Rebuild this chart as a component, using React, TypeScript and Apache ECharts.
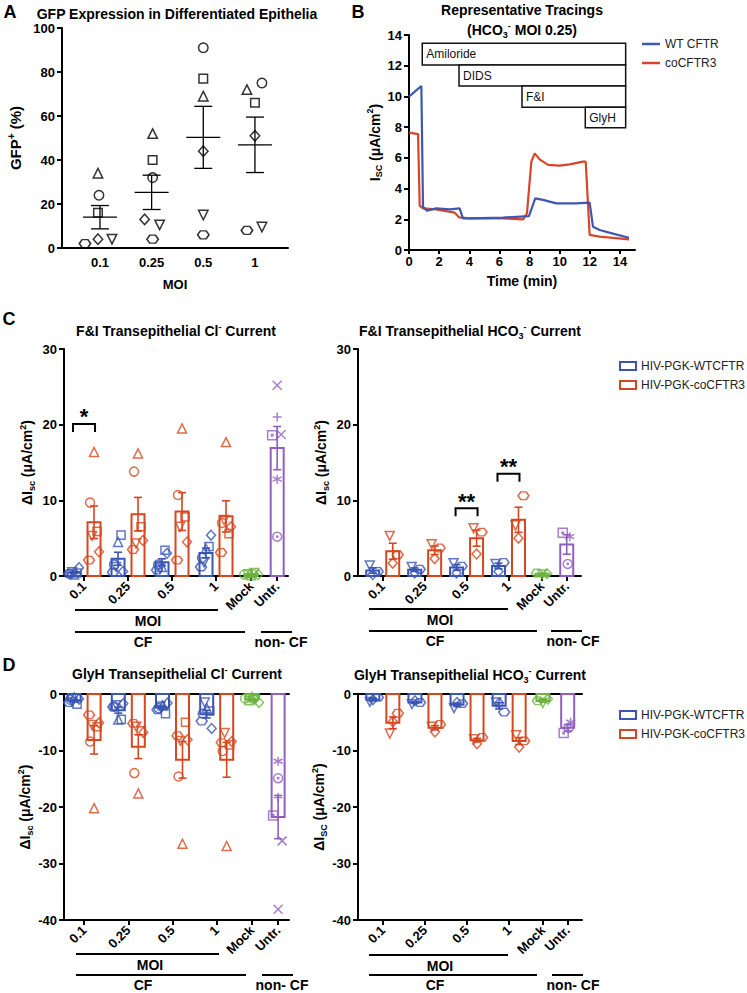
import React, { useEffect, useRef } from 'react';
import * as echarts from 'echarts';

const FONT = '"Liberation Sans", Arial, Helvetica, sans-serif';
const BLUE = '#3a55b4';
const RED = '#d4471f';
const GREEN = '#6cb33f';
const PURPLE = '#915fc0';
const TRACE_BLUE = '#3f57b0';
const TRACE_RED = '#d8462a';

// ---------- Panel A ----------
const A_MOI = ['0.1', '0.25', '0.5', '1'];
const A_GFP = [
  [24, 16, 34, 4, 4, 2],
  [32, 40, 52, 10.5, 13, 4],
  [91, 77, 69, 15, 44, 6],
  [75, 66, 72, 9.5, 51, 8],
];
const A_MEAN = [14, 25.3, 50.3, 46.9];
const A_SEM = [5.3, 7.8, 14.1, 12.6];
const A_JITTER = [
  [-1, -2, -2, 12, -2, -15],
  [1, 1, 1, 8, -7, 1],
  [0, 0, 0, 0, 0, 0],
  [7, 0, -8, 7, 0, -8],
];

// ---------- Panel B ----------
const B_TICKS = [0, 2, 4, 6, 8, 10, 12, 14];
const B_WT_TIME = [0, 0.38, 0.82, 0.93, 1.19, 1.81, 2.7, 3.36, 3.58, 4.03, 6.24, 7.96, 8.38, 8.89, 9.78, 11.1, 11.99, 12.21, 12.65, 13.6, 14.6];
const B_WT_ISC = [9.98, 10.31, 10.68, 2.82, 2.56, 2.71, 2.65, 2.71, 2.06, 2.06, 2.11, 2.21, 3.36, 3.26, 3.04, 3.04, 3.08, 1.52, 1.3, 1.05, 0.8];
const B_CO_TIME = [0, 0.6, 0.71, 0.93, 1.81, 3.03, 3.32, 4.03, 6.24, 7.57, 7.83, 8.12, 8.34, 8.67, 9.23, 10.0, 10.66, 11.55, 11.73, 11.99, 12.65, 14.6];
const B_CO_ISC = [7.64, 7.55, 2.87, 2.71, 2.65, 2.43, 2.13, 2.06, 2.06, 2.0, 2.39, 5.75, 6.29, 5.9, 5.54, 5.49, 5.58, 5.75, 5.75, 0.98, 0.87, 0.69];
const B_BOX_LABELS = ['Amiloride', 'DIDS', 'F&I', 'GlyH'];
const B_BOX_START = [0.88, 3.32, 7.5, 11.7];
const B_BOX_END = [14.38, 14.38, 14.38, 14.38];
const B_BOX_TOP = [13.46, 12.04, 10.68, 9.29];
const B_BOX_BOTTOM = [12.04, 10.68, 9.29, 7.96];

// ---------- Panels C / D (groups: 0.1, 0.25, 0.5, 1, Mock, Untr.) ----------
const GROUP_LABELS = ['0.1', '0.25', '0.5', '1', 'Mock', 'Untr.'];
const POS = [1, 2, 3, 4, 4.8, 5.39];

// C: F&I Cl-
const C_CL_WT = [
  [0.3, 0.4, 0.2, 0.5, 1.1, 0.3],
  [1.5, 5.4, 4.5, 1.2, 0.6, 0.5],
  [1.5, 3.4, 1.2, 1.0, 3.0, 0.8],
  [2.4, 3.9, 3.6, 1.8, 5.4, 1.2],
];
const C_CL_WT_MEAN = [0.47, 2.28, 1.82, 3.05];
const C_CL_WT_SEM = [0.13, 0.86, 0.45, 0.63];
const C_CL_CO = [
  [9.7, 5.9, 16.4, 5.3, 3.2, 2.1],
  [13.8, 6.5, 16.2, 4.3, 4.7, 3.5],
  [10.7, 7.8, 19.5, 6.5, 4.5, 2.1],
  [7.0, 5.6, 17.7, 7.4, 6.5, 3.1],
];
const C_CL_CO_MEAN = [7.1, 8.17, 8.52, 7.88];
const C_CL_CO_SEM = [2.15, 2.22, 2.5, 2.06];
const C_CL_MOCK = [0.2, 0.3, 0.1, 0.4, 0.2, 0.3];
const C_CL_MOCK_MEAN = [0.25];
const C_CL_MOCK_SEM = [0.04];
const C_CL_UNTR = [25.2, 21.0, 18.6, 18.7, 12.8, 5.2];
const C_CL_UNTR_MEAN = [16.9];
const C_CL_UNTR_SEM = [2.86];

// C: F&I HCO3-
const C_HCO3_WT = [[0.6, 1.4, 0.2], [0.9, 1.2, 0.4], [1.3, 1.7, 0.4], [1.8, 1.6, 0.6]];
const C_HCO3_WT_MEAN = [0.73, 0.83, 1.13, 1.33];
const C_HCO3_WT_SEM = [0.35, 0.23, 0.38, 0.37];
const C_HCO3_CO = [[2.8, 5.3, 1.7], [3.7, 4.2, 2.3], [5.8, 6.3, 2.9], [10.6, 6.7, 5.0]];
const C_HCO3_CO_MEAN = [3.27, 3.4, 5.0, 7.43];
const C_HCO3_CO_SEM = [1.06, 0.57, 1.06, 1.66];
const C_HCO3_MOCK = [0.4, 0.2, 0.3];
const C_HCO3_MOCK_MEAN = [0.3];
const C_HCO3_MOCK_SEM = [0.06];
const C_HCO3_UNTR = [5.7, 5.2, 1.6];
const C_HCO3_UNTR_MEAN = [4.17];
const C_HCO3_UNTR_SEM = [1.29];

// D: GlyH Cl-
const D_CL_WT = [
  [-1.0, -1.8, -0.6, -1.4, -0.9, -1.5],
  [-2.2, -4.5, -4.5, -2.0, -1.7, -2.3],
  [-2.5, -3.5, -2.0, -2.2, -1.6, -2.8],
  [-3.5, -3.0, -2.5, -1.5, -6.1, -4.8],
];
const D_CL_WT_MEAN = [-1.2, -2.87, -2.43, -3.57];
const D_CL_WT_SEM = [0.18, 0.52, 0.27, 0.67];
const D_CL_CO = [
  [-8.4, -5.8, -20.2, -5.5, -5.1, -3.7],
  [-14.0, -6.5, -17.6, -5.8, -6.8, -5.2],
  [-14.6, -5.0, -26.5, -8.3, -8.1, -7.4],
  [-10.1, -9.0, -26.9, -6.9, -8.4, -8.6],
];
const D_CL_CO_MEAN = [-8.12, -9.32, -11.65, -11.65];
const D_CL_CO_SEM = [2.5, 2.11, 3.24, 3.08];
const D_CL_MOCK = [-0.8, -1.2, -0.5, -1.0, -1.5, -0.9];
const D_CL_MOCK_MEAN = [-0.98];
const D_CL_MOCK_SEM = [0.14];
const D_CL_UNTR = [-38.1, -18.3, -21.5, -26.0, -11.9, -14.9];
const D_CL_UNTR_MEAN = [-21.78];
const D_CL_UNTR_SEM = [3.83];

// D: GlyH HCO3-
const D_HCO3_WT = [[-0.6, -1.4, -1.0], [-1.5, -1.8, -1.2], [-1.7, -2.5, -1.5], [-3.2, -1.5, -1.6]];
const D_HCO3_WT_MEAN = [-1.0, -1.5, -1.9, -2.1];
const D_HCO3_WT_SEM = [0.23, 0.17, 0.31, 0.55];
const D_HCO3_CO = [[-3.4, -7.0, -4.9], [-5.4, -5.8, -6.7], [-7.7, -8.0, -8.8], [-8.3, -7.3, -9.4]];
const D_HCO3_CO_MEAN = [-5.1, -5.97, -8.17, -8.33];
const D_HCO3_CO_SEM = [1.04, 0.38, 0.33, 0.61];
const D_HCO3_MOCK = [-1.2, -1.6, -0.9];
const D_HCO3_MOCK_MEAN = [-1.23];
const D_HCO3_MOCK_SEM = [0.2];
const D_HCO3_UNTR = [-6.9, -5.0, -6.0];
const D_HCO3_UNTR_MEAN = [-5.97];
const D_HCO3_UNTR_SEM = [0.55];

// Significance brackets
const SIG_C_CL_GROUPS = [0];
const SIG_C_CL_LEVEL = [20.1];
const SIG_C_CL_LABEL = ['*'];
const SIG_C_HCO3_GROUPS = [2, 3];
const SIG_C_HCO3_LEVEL = [8.95, 13.5];
const SIG_C_HCO3_LABEL = ['**', '**'];

// ---------- styles ----------
const SHAPES_N6 = ['circle', 'square', 'triangle', 'downTri', 'diamond', 'hexagon'];
const SHAPES_N3 = ['hexagon', 'downTri', 'diamond'];
const SHAPES_UNTR6 = ['cross', 'plus', 'squareDot', 'cross', 'star', 'circleDot'];
const SHAPES_UNTR3 = ['squareDot', 'star', 'circleDot'];
const JIT6 = [-4, 3, 0, -2, 5, -5];
const JIT3 = [5, -3, 0];
const JIT_MOCK6 = [-7, -3, 0, 3, 7, 1];
const JIT_MOCK3 = [-5, 0, 5];
const JIT_UNTR6 = [0, 0, -5, 4, 0, 0];
const JIT_UNTR3 = [-4, 3, 1];

const SYM: Record<string, { symbol: string; rotate?: number; sx?: number; sy?: number }> = {
  circle: { symbol: 'circle' },
  square: { symbol: 'rect', sx: 0.9, sy: 0.9 },
  triangle: { symbol: 'triangle' },
  downTri: { symbol: 'triangle', rotate: 180 },
  diamond: { symbol: 'diamond', sx: 1, sy: 1.1 },
  hexagon: { symbol: 'path://M3,0L9,0L12,5L9,10L3,10L0,5Z', sx: 1.2, sy: 0.85 },
  cross: { symbol: 'path://M0,0L10,10M10,0L0,10' },
  plus: { symbol: 'path://M5,0L5,10M0,5L10,5' },
  star: { symbol: 'path://M5,0L5,10M0.67,2.5L9.33,7.5M9.33,2.5L0.67,7.5' },
  circleDot: { symbol: 'path://M10,5A5,5,0,1,1,0,5A5,5,0,1,1,10,5ZM5.8,5A0.8,0.8,0,1,1,4.2,5A0.8,0.8,0,1,1,5.8,5Z' },
  squareDot: { symbol: 'path://M0,0L10,0L10,10L0,10ZM4.2,4.2L5.8,4.2L5.8,5.8L4.2,5.8Z' },
};

function rich(size: number) {
  const small = Math.round(size * 0.64);
  const base = { fontSize: small, fontWeight: 'bold', fontFamily: FONT, lineHeight: small, color: '#000', fill: '#000' };
  return {
    sub: { ...base, verticalAlign: 'bottom' },
    sup: { ...base, verticalAlign: 'top' },
  };
}

function nameStyle(size: number) {
  return { fontSize: size, fontWeight: 'bold', fontFamily: FONT, color: '#000', lineHeight: size + 4, rich: rich(size) };
}

const labelStyle = { fontSize: 13, fontWeight: 'bold', fontFamily: FONT, color: '#000' };

function pointSeries(xi: number, yi: number, groups: number[][], gIdx: number[], shapes: string[], jitter: any, shiftPx: number, color: string, size = 9) {
  const data: any[] = [];
  groups.forEach((vals, k) => {
    vals.forEach((v, i) => {
      const s = SYM[shapes[i]];
      const j = Array.isArray(jitter[0]) ? jitter[k][i] : jitter[i];
      data.push({
        value: [POS[gIdx[k]], v],
        symbol: s.symbol,
        symbolRotate: s.rotate || 0,
        symbolSize: [size * (s.sx || 1), size * (s.sy || 1)],
        symbolOffset: [shiftPx + j, 0],
      });
    });
  });
  return {
    type: 'scatter', xAxisIndex: xi, yAxisIndex: yi, data, z: 5, silent: true,
    itemStyle: { color: 'rgba(0,0,0,0)', borderColor: color, borderWidth: 1.5 },
  };
}

function barSeries(name: string, xi: number, yi: number, means: number[], sems: number[], gIdx: number[], shiftPx: number, color: string) {
  return {
    type: 'custom', name, xAxisIndex: xi, yAxisIndex: yi, z: 3, silent: true,
    itemStyle: { color },
    data: means.map((m, i) => [POS[gIdx[i]], m, sems[i]]),
    renderItem: (_p: any, api: any) => {
      const x = api.value(0), m = api.value(1), s = api.value(2);
      const base = api.coord([x, 0]);
      const top = api.coord([x, m]);
      const hi = api.coord([x, m + s]);
      const lo = api.coord([x, m - s]);
      const cx = base[0] + shiftPx;
      const y0 = Math.min(base[1], top[1]);
      const h = Math.max(Math.abs(base[1] - top[1]), 0.5);
      const ln = { stroke: color, lineWidth: 1.6 };
      return {
        type: 'group', children: [
          { type: 'rect', shape: { x: cx - 6.5, y: y0, width: 13, height: h }, style: { fill: 'none', stroke: color, lineWidth: 2 } },
          { type: 'line', shape: { x1: cx, y1: hi[1], x2: cx, y2: lo[1] }, style: ln },
          { type: 'line', shape: { x1: cx - 4, y1: hi[1], x2: cx + 4, y2: hi[1] }, style: ln },
          { type: 'line', shape: { x1: cx - 4, y1: lo[1], x2: cx + 4, y2: lo[1] }, style: ln },
        ],
      };
    },
  };
}

function sigSeries(xi: number, yi: number, groups: number[], levels: number[], labels: string[]) {
  return {
    type: 'custom', xAxisIndex: xi, yAxisIndex: yi, z: 6, silent: true,
    data: groups.map((g, i) => [POS[g], levels[i]]),
    renderItem: (p: any, api: any) => {
      const c = api.coord([api.value(0), api.value(1)]);
      return {
        type: 'group', children: [
          { type: 'polyline', shape: { points: [[c[0] - 11, c[1] + 8], [c[0] - 11, c[1]], [c[0] + 11, c[1]], [c[0] + 11, c[1] + 8]] }, style: { stroke: '#000', fill: 'none', lineWidth: 2 } },
          { type: 'text', x: c[0], y: c[1] - 7, style: { text: labels[p.dataIndex], fontSize: 22, fontWeight: 'bold', fontFamily: FONT, fill: '#000', align: 'center', verticalAlign: 'middle' } },
        ],
      };
    },
  };
}

function panelSeries(xi: number, n6: boolean, wt: number[][], wtM: number[], wtS: number[], co: number[][], coM: number[], coS: number[], mock: number[], mockM: number[], mockS: number[], untr: number[], untrM: number[], untrS: number[]) {
  const shapes = n6 ? SHAPES_N6 : SHAPES_N3;
  const jit = n6 ? JIT6 : JIT3;
  return [
    barSeries('HIV-PGK-WTCFTR', xi, xi, wtM, wtS, [0, 1, 2, 3], -10, BLUE),
    barSeries('HIV-PGK-coCFTR3', xi, xi, coM, coS, [0, 1, 2, 3], 10, RED),
    barSeries('Mock', xi, xi, mockM, mockS, [4], 0, GREEN),
    barSeries('Untr.', xi, xi, untrM, untrS, [5], 0, PURPLE),
    pointSeries(xi, xi, wt, [0, 1, 2, 3], shapes, jit, -10, BLUE),
    pointSeries(xi, xi, co, [0, 1, 2, 3], shapes, jit, 10, RED),
    pointSeries(xi, xi, [mock], [4], shapes, n6 ? JIT_MOCK6 : JIT_MOCK3, 0, GREEN),
    pointSeries(xi, xi, [untr], [5], n6 ? SHAPES_UNTR6 : SHAPES_UNTR3, n6 ? JIT_UNTR6 : JIT_UNTR3, 0, PURPLE),
  ];
}

const axisLine = { show: true, onZero: false, lineStyle: { color: '#000', width: 2 } };
const axisTick = { show: true, length: 5, lineStyle: { color: '#000', width: 2 } };

function groupXAxis(gridIndex: number, min: number, max: number) {
  return {
    gridIndex, type: 'value', min, max, position: 'bottom',
    axisLine, splitLine: { show: false },
    axisTick: { ...axisTick, customValues: POS },
    axisLabel: { ...labelStyle, rotate: 45, margin: 8, customValues: POS, formatter: (v: number) => GROUP_LABELS[POS.indexOf(v)] ?? '' },
  };
}
function topLine(gridIndex: number, min: number, max: number) {
  return { gridIndex, type: 'value', min, max, position: 'top', axisLine, axisTick: { show: false }, axisLabel: { show: false }, splitLine: { show: false } };
}
function yAx(gridIndex: number, min: number, max: number, interval: number, name: string, nameGap: number, nameSize = 14) {
  return {
    gridIndex, type: 'value', min, max, interval, axisLine, axisTick, splitLine: { show: false },
    axisLabel: { ...labelStyle, margin: 7 },
    name, nameLocation: 'middle', nameGap, nameTextStyle: nameStyle(nameSize),
  };
}

function txt(x: number, y: number, text: string, size: number, extra: any = {}) {
  return {
    type: 'text', x, y, silent: true,
    style: { text, fontSize: size, fontWeight: 'bold', fontFamily: FONT, fill: '#000', align: 'center', verticalAlign: 'middle', lineHeight: size + 4, rich: rich(size), ...extra },
  };
}
function hline(x1: number, x2: number, y: number) {
  return { type: 'line', silent: true, shape: { x1, y1: y, x2, y2: y }, style: { stroke: '#000', lineWidth: 2 } };
}
function decor(x0: number, moiEnd: number, cfEnd: number, nonStart: number, nonEnd: number, moiY: number, cfY: number, moiTx: number, cfTx: number, nonTx: number) {
  const ex = { lineHeight: 14 };
  return [
    hline(x0, moiEnd, moiY), txt(moiTx, moiY + 11, 'MOI', 14, ex),
    hline(x0, cfEnd, cfY), txt(cfTx, cfY + 10, 'CF', 14, ex),
    hline(nonStart, nonEnd, cfY), txt(nonTx, cfY + 10, 'non- CF', 14, ex),
  ];
}

function buildOption(): any {
  const legendItem = (name: string, color: string) => ({ name, icon: 'rect', itemStyle: { color: 'rgba(0,0,0,0)', borderColor: color, borderWidth: 2 } });
  const boxLegend = (top: number) => ({
    left: 614, top, orient: 'vertical', selectedMode: false, itemWidth: 16, itemHeight: 8, itemGap: 7,
    textStyle: { fontSize: 12, fontFamily: FONT, color: '#222' },
    data: [legendItem('HIV-PGK-WTCFTR', BLUE), legendItem('HIV-PGK-coCFTR3', RED)],
  });

  return {
    animation: false,
    backgroundColor: '#fff',
    textStyle: { fontFamily: FONT },
    grid: [
      { left: 62, top: 28, width: 226, height: 220 },
      { left: 409, top: 35, width: 226, height: 215 },
      { left: 64, top: 349, width: 224, height: 227 },
      { left: 358, top: 349, width: 223, height: 227 },
      { left: 64, top: 694, width: 225, height: 226 },
      { left: 358, top: 694, width: 224, height: 226 },
    ].map((g) => ({ ...g, containLabel: false, outerBoundsMode: 'none' })),
    xAxis: [
      {
        gridIndex: 0, type: 'value', min: 0.265, max: 4.64, axisLine, axisTick: { show: false }, splitLine: { show: false },
        axisLabel: { ...labelStyle, margin: 8, customValues: [1, 2, 3, 4], formatter: (v: number) => A_MOI[Math.round(v) - 1] ?? '' },
        name: 'MOI', nameLocation: 'middle', nameGap: 28, nameTextStyle: nameStyle(13),
      },
      {
        gridIndex: 1, type: 'value', min: 0, max: 15, axisLine, splitLine: { show: false },
        axisTick: { ...axisTick, length: 4, customValues: B_TICKS },
        axisLabel: { ...labelStyle, margin: 5, customValues: B_TICKS },
        name: 'Time (min)', nameLocation: 'middle', nameGap: 22, nameTextStyle: nameStyle(14),
      },
      groupXAxis(2, 0.545, 5.636),
      groupXAxis(3, 0.41, 5.73),
      groupXAxis(4, 0.545, 5.636),
      groupXAxis(5, 0.41, 5.73),
      topLine(4, 0.545, 5.636),
      topLine(5, 0.41, 5.73),
    ],
    yAxis: [
      yAx(0, 0, 100, 20, 'GFP{sup|+} (%)', 37, 15),
      yAx(1, 0, 14, 2, 'I{sub|SC} (μA/cm{sup|2})', 24, 14),
      yAx(2, 0, 30, 10, 'ΔI{sub|sc} (μA/cm{sup|2})', 28),
      yAx(3, 0, 30, 10, 'ΔI{sub|sc} (μA/cm{sup|2})', 28),
      yAx(4, -40, 0, 10, 'ΔI{sub|sc} (μA/cm{sup|2})', 30),
      yAx(5, -40, 0, 10, 'ΔI{sub|SC} (μA/cm{sup|2})', 28),
    ],
    legend: [
      {
        left: 637, top: 33, orient: 'vertical', selectedMode: false, icon: 'rect', itemWidth: 18, itemHeight: 2.5, itemGap: 7,
        textStyle: { fontSize: 12, fontFamily: FONT, color: '#222' },
        data: ['WT CFTR', 'coCFTR3'],
      },
      boxLegend(355),
      boxLegend(704),
    ],
    series: [
      // Panel A
      pointSeries(0, 0, A_GFP, [0, 1, 2, 3], SHAPES_N6, A_JITTER, 0, '#000', 9.5),
      {
        type: 'custom', xAxisIndex: 0, yAxisIndex: 0, z: 4, silent: true,
        data: A_MEAN.map((m, i) => [POS[i], m, A_SEM[i]]),
        renderItem: (_p: any, api: any) => {
          const x = api.value(0), m = api.value(1), s = api.value(2);
          const c = api.coord([x, m]), u = api.coord([x, m + s]), l = api.coord([x, m - s]);
          const st = { stroke: '#000', lineWidth: 1.3 };
          return {
            type: 'group', children: [
              { type: 'line', shape: { x1: c[0] - 17, y1: c[1], x2: c[0] + 17, y2: c[1] }, style: st },
              { type: 'line', shape: { x1: c[0], y1: u[1], x2: c[0], y2: l[1] }, style: st },
              { type: 'line', shape: { x1: c[0] - 9, y1: u[1], x2: c[0] + 9, y2: u[1] }, style: st },
              { type: 'line', shape: { x1: c[0] - 9, y1: l[1], x2: c[0] + 9, y2: l[1] }, style: st },
            ],
          };
        },
      },
      // Panel B
      {
        type: 'custom', xAxisIndex: 1, yAxisIndex: 1, z: 2, silent: true,
        data: B_BOX_LABELS.map((_, i) => [B_BOX_START[i], B_BOX_END[i], B_BOX_TOP[i], B_BOX_BOTTOM[i]]),
        renderItem: (p: any, api: any) => {
          const a = api.coord([api.value(0), api.value(2)]);
          const b = api.coord([api.value(1), api.value(3)]);
          return {
            type: 'group', children: [
              { type: 'rect', shape: { x: a[0], y: a[1], width: b[0] - a[0], height: b[1] - a[1] }, style: { fill: '#fff', stroke: '#111', lineWidth: 1.5 } },
              { type: 'text', x: a[0] + 4, y: (a[1] + b[1]) / 2, style: { text: B_BOX_LABELS[p.dataIndex], fontSize: 12, fontFamily: FONT, fill: '#111', align: 'left', verticalAlign: 'middle' } },
            ],
          };
        },
      },
      {
        type: 'line', name: 'coCFTR3', xAxisIndex: 1, yAxisIndex: 1, showSymbol: false, z: 3,
        data: B_CO_TIME.map((t, i) => [t, B_CO_ISC[i]]),
        lineStyle: { color: TRACE_RED, width: 2.2 }, itemStyle: { color: TRACE_RED },
      },
      {
        type: 'line', name: 'WT CFTR', xAxisIndex: 1, yAxisIndex: 1, showSymbol: false, z: 4,
        data: B_WT_TIME.map((t, i) => [t, B_WT_ISC[i]]),
        lineStyle: { color: TRACE_BLUE, width: 2.2 }, itemStyle: { color: TRACE_BLUE },
      },
      // Panel C
      ...panelSeries(2, true, C_CL_WT, C_CL_WT_MEAN, C_CL_WT_SEM, C_CL_CO, C_CL_CO_MEAN, C_CL_CO_SEM, C_CL_MOCK, C_CL_MOCK_MEAN, C_CL_MOCK_SEM, C_CL_UNTR, C_CL_UNTR_MEAN, C_CL_UNTR_SEM),
      sigSeries(2, 2, SIG_C_CL_GROUPS, SIG_C_CL_LEVEL, SIG_C_CL_LABEL),
      ...panelSeries(3, false, C_HCO3_WT, C_HCO3_WT_MEAN, C_HCO3_WT_SEM, C_HCO3_CO, C_HCO3_CO_MEAN, C_HCO3_CO_SEM, C_HCO3_MOCK, C_HCO3_MOCK_MEAN, C_HCO3_MOCK_SEM, C_HCO3_UNTR, C_HCO3_UNTR_MEAN, C_HCO3_UNTR_SEM),
      sigSeries(3, 3, SIG_C_HCO3_GROUPS, SIG_C_HCO3_LEVEL, SIG_C_HCO3_LABEL),
      // Panel D
      ...panelSeries(4, true, D_CL_WT, D_CL_WT_MEAN, D_CL_WT_SEM, D_CL_CO, D_CL_CO_MEAN, D_CL_CO_SEM, D_CL_MOCK, D_CL_MOCK_MEAN, D_CL_MOCK_SEM, D_CL_UNTR, D_CL_UNTR_MEAN, D_CL_UNTR_SEM),
      ...panelSeries(5, false, D_HCO3_WT, D_HCO3_WT_MEAN, D_HCO3_WT_SEM, D_HCO3_CO, D_HCO3_CO_MEAN, D_HCO3_CO_SEM, D_HCO3_MOCK, D_HCO3_MOCK_MEAN, D_HCO3_MOCK_SEM, D_HCO3_UNTR, D_HCO3_UNTR_MEAN, D_HCO3_UNTR_SEM),
    ],
    graphic: {
      elements: [
        txt(10, 12, 'A', 18),
        txt(358, 12, 'B', 18),
        txt(9, 319, 'C', 18),
        txt(9, 665, 'D', 18),
        txt(177, 14, 'GFP Expression in Differentiated Epithelia', 14),
        txt(522, 10, 'Representative Tracings', 14),
        txt(522, 30, '(HCO{sub|3}{sup|-} MOI 0.25)', 14),
        txt(176, 331, 'F&I Transepithelial Cl{sup|-} Current', 14),
        txt(470, 331, 'F&I Transepithelial HCO{sub|3}{sup|-} Current', 14),
        txt(177, 674, 'GlyH Transepithelial Cl{sup|-} Current', 14),
        txt(470, 675, 'GlyH Transepithelial HCO{sub|3}{sup|-} Current', 14),
        ...decor(75, 218, 245, 261, 292, 610, 632, 148, 143, 281),
        ...decor(369, 508, 537, 551, 582, 609, 631, 440, 435, 573),
        ...decor(76, 219, 246, 262, 293, 954, 975, 150, 143, 282),
        ...decor(369, 508, 537, 552, 583, 955, 975, 440, 435, 573),
      ],
    },
  };
}

export default function App() {
  const ref = useRef<HTMLDivElement>(null);
  useEffect(() => {
    if (!ref.current) return;
    const chart = echarts.init(ref.current, null, { renderer: 'svg' });
    chart.setOption(buildOption());
    return () => chart.dispose();
  }, []);
  return <div ref={ref} style={{ position: 'absolute', left: 0, top: 0, width: 747, height: 993, background: '#fff' }} />;
}
